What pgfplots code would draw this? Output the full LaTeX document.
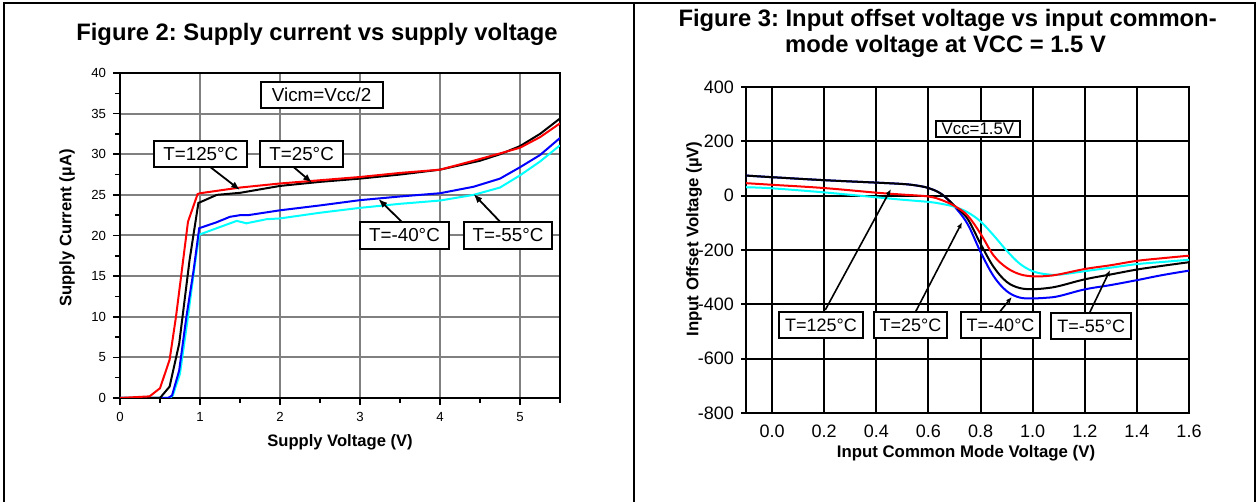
\documentclass[border=0pt]{standalone}
\usepackage{fontspec}
\setmainfont{Liberation Sans}
\usepackage{pgfplots}
\pgfplotsset{compat=1.18}
\usetikzlibrary{arrows.meta}
\frenchspacing

\definecolor{gridgray}{RGB}{128,128,128}
\definecolor{cyanline}{RGB}{0,255,255}

\begin{document}
\begin{tikzpicture}
\path[use as bounding box] (0,0) rectangle (630pt,251pt);
% table frame
\draw[line width=1.1pt] (2pt,0) -- (2pt,249.6pt) -- (627.5pt,249.6pt) -- (627.5pt,0);
\draw[line width=1.1pt] (317pt,0) -- (317pt,249.6pt);

% titles
\node[font=\bfseries\fontsize{11.9}{13}\selectfont] at (158.5pt,234pt) {Figure 2: Supply current vs supply voltage};
\node[font=\bfseries\fontsize{11.9}{13}\selectfont] at (473.8pt,240.6pt) {Figure 3: Input offset voltage vs input common-};
\node[font=\bfseries\fontsize{11.9}{13}\selectfont] at (472.8pt,227.6pt) {mode voltage at VCC = 1.5 V};

% ---------- Figure 2 ----------
\begin{axis}[
  at={(60pt,52pt)}, anchor=south west,
  scale only axis, width=220pt, height=162.5pt,
  xmin=0, xmax=5.5, ymin=0, ymax=40,
  xtick={0,1,2,3,4,5}, minor xtick={0.5,1.5,2.5,3.5,4.5,5.5},
  ytick={0,5,...,40}, minor ytick={2.5,7.5,...,37.5},
  /pgf/number format/assume math mode=true,
  tick label style={font=\fontsize{6.6}{7}\selectfont},
  tick align=outside, tick pos=left,
  major tick length=3.5pt, minor tick length=2.5pt,
  tick style={black, line width=0.8pt},
  grid=major, major grid style={gridgray, line width=1pt},
  axis line style={black, line width=1.2pt},
  every axis plot/.append style={line width=1pt},
]
\addplot[cyanline] coordinates {
  (0,0) (0.62,0) (0.66,0.3) (0.75,3.0) (0.85,10) (0.93,16) (0.99,20.1)
  (1.21,20.9) (1.46,21.8) (1.58,21.5) (1.83,22.0) (2.0,22.1) (2.5,22.8)
  (3.0,23.4) (3.5,23.9) (4.0,24.3) (4.42,25.0) (4.75,25.9) (5.0,27.4)
  (5.25,29.1) (5.5,31.1)
};
\addplot[blue] coordinates {
  (0,0) (0.6,0) (0.65,0.3) (0.74,3.4) (0.83,10) (0.92,15.7) (0.99,20.9)
  (1.2,21.6) (1.375,22.3) (1.5,22.5) (1.6,22.5) (2.0,23.1) (2.5,23.7)
  (3.0,24.35) (3.5,24.8) (4.0,25.2) (4.42,26.0) (4.75,27.0) (5.0,28.4)
  (5.25,29.9) (5.5,32.0)
};
\addplot[black] coordinates {
  (0,0) (0.5,0) (0.62,1.4) (0.74,6.7) (0.87,17) (0.98,24.0) (1.21,25.0)
  (1.5,25.25) (2.0,26.1) (2.5,26.6) (3.0,27.0) (3.5,27.5) (4.0,28.1)
  (4.5,29.2) (4.75,30.0) (5.0,31.0) (5.25,32.5) (5.5,34.4)
};
\addplot[red] coordinates {
  (0,0) (0.37,0.2) (0.5,1.2) (0.62,4.7) (0.7,10) (0.85,21.7) (0.97,25.1)
  (1.0,25.2) (1.5,25.9) (2.0,26.4) (2.5,26.8) (3.0,27.2) (3.5,27.7)
  (4.0,28.1) (4.42,29.2) (4.75,30.1) (5.0,30.8) (5.25,32.1) (5.5,33.8)
};
\tikzset{lbl/.style={draw=black, line width=1pt, fill=white, inner xsep=4.5pt, inner ysep=1pt,
  minimum height=13.2pt, font=\fontsize{9.4}{10}\selectfont}}
\draw[line width=0.9pt, -{Latex[length=4.5pt,width=3.5pt]}] (axis cs:1.125,28.45) -- (axis cs:1.5,25.6);
\draw[line width=0.9pt, -{Latex[length=4.5pt,width=3.5pt]}] (axis cs:2.167,28.45) -- (axis cs:2.40,26.5);
\draw[line width=0.9pt, -{Latex[length=4.5pt,width=3.5pt]}] (axis cs:3.52,21.7) -- (axis cs:3.23,24.5);
\draw[line width=0.9pt, -{Latex[length=4.5pt,width=3.5pt]}] (axis cs:4.75,21.7) -- (axis cs:4.42,25.1);
\node[lbl, minimum width=61pt] at (axis cs:2.52,37.3) {Vicm=Vcc/2};
\node[lbl] at (axis cs:1.01,30.0) {T=125°C};
\node[lbl] at (axis cs:2.27,30.0) {T=25°C};
\node[lbl] at (axis cs:3.556,20.0) {T=-40°C};
\node[lbl] at (axis cs:4.85,20.0) {T=-55°C};
\end{axis}
\node[font=\bfseries\fontsize{8.3}{9}\selectfont] at (170pt,30pt) {Supply Voltage (V)};
\node[font=\bfseries\fontsize{8.3}{9}\selectfont, rotate=90] at (33.5pt,137pt) {Supply Current (µA)};

% ---------- Figure 3 ----------
\begin{axis}[
  at={(373pt,44.5pt)}, anchor=south west,
  scale only axis, width=221.5pt, height=163pt,
  xmin=-0.1, xmax=1.6, ymin=-800, ymax=400,
  xtick={0,0.2,0.4,0.6,0.8,1.0,1.2,1.4,1.6},
  ytick={-800,-600,...,400},
  /pgf/number format/assume math mode=true,
  xticklabel style={/pgf/number format/.cd, fixed, fixed zerofill, precision=1},
  tick label style={font=\fontsize{9}{10}\selectfont},
  tick align=outside, tick pos=left,
  major tick length=2.5pt,
  tick style={black, line width=1pt},
  xtick style={draw=none},
  grid=major, major grid style={black, line width=1pt},
  axis line style={black, line width=1.2pt},
  every axis plot/.append style={line width=1pt, smooth, tension=0.6},
]
\addplot[blue] coordinates {
  (-0.1,74) (0.0,68) (0.2,57) (0.4,48) (0.5,43) (0.55,38) (0.6,28) (0.65,6)
  (0.7,-40) (0.75,-104) (0.8,-207) (0.85,-296) (0.9,-351) (0.95,-375)
  (1.0,-378) (1.05,-376) (1.1,-370) (1.2,-345) (1.3,-329) (1.4,-311)
  (1.5,-292) (1.6,-276)
};
\addplot[black] coordinates {
  (-0.1,74) (0.0,68) (0.2,57) (0.4,48) (0.5,43) (0.55,38) (0.6,28) (0.65,6)
  (0.7,-37) (0.75,-85) (0.8,-177) (0.85,-262) (0.9,-317) (0.95,-340)
  (1.0,-344) (1.05,-341) (1.1,-333) (1.2,-308) (1.3,-290) (1.4,-272)
  (1.5,-258) (1.6,-245)
};
\addplot[cyanline] coordinates {
  (-0.1,31) (0.0,27) (0.2,12) (0.4,-6) (0.5,-15) (0.6,-23) (0.65,-30)
  (0.7,-41) (0.75,-61) (0.8,-95) (0.85,-146) (0.9,-202) (0.95,-250)
  (1.0,-278) (1.05,-289) (1.1,-291) (1.2,-278) (1.3,-265) (1.4,-252)
  (1.5,-244) (1.6,-236)
};
\addplot[red] coordinates {
  (-0.1,46) (0.0,40) (0.2,28) (0.4,11) (0.5,4) (0.6,-3) (0.65,-16)
  (0.7,-38) (0.75,-73) (0.8,-140) (0.85,-220) (0.9,-265) (0.95,-289)
  (1.0,-297) (1.05,-296) (1.1,-290) (1.2,-270) (1.3,-256) (1.4,-240)
  (1.5,-230) (1.6,-221)
};
\tikzset{lbr/.style={draw=black, line width=1pt, fill=white, inner xsep=3pt, inner ysep=1pt,
  minimum height=12.8pt, font=\fontsize{9}{10}\selectfont}}
\draw[line width=0.8pt, -{Latex[length=3pt,width=2.5pt]}] (axis cs:0.204,-421) -- (axis cs:0.456,24);
\draw[line width=0.8pt, -{Latex[length=3pt,width=2.5pt]}] (axis cs:0.551,-427) -- (axis cs:0.729,-98);
\draw[line width=0.8pt, -{Latex[length=3pt,width=2.5pt]}] (axis cs:0.870,-432) -- (axis cs:0.920,-373);
\draw[line width=0.8pt, -{Latex[length=3pt,width=2.5pt]}] (axis cs:1.218,-432) -- (axis cs:1.297,-274);
\node[lbr, inner ysep=0.5pt, minimum height=8.4pt, font=\fontsize{8.4}{9}\selectfont] at (axis cs:0.79,245) {Vcc=1.5V};
\node[lbr] at (axis cs:0.188,-477) {T=125°C};
\node[lbr] at (axis cs:0.531,-477) {T=25°C};
\node[lbr] at (axis cs:0.877,-477) {T=-40°C};
\node[lbr] at (axis cs:1.225,-480) {T=-55°C};
\end{axis}
\node[font=\bfseries\fontsize{8.4}{9}\selectfont] at (483pt,24.5pt) {Input Common Mode Voltage (V)};
\node[font=\bfseries\fontsize{8.4}{9}\selectfont, rotate=90] at (347pt,131.5pt) {Input Offset Voltage (µV)};
\end{tikzpicture}
\end{document}
